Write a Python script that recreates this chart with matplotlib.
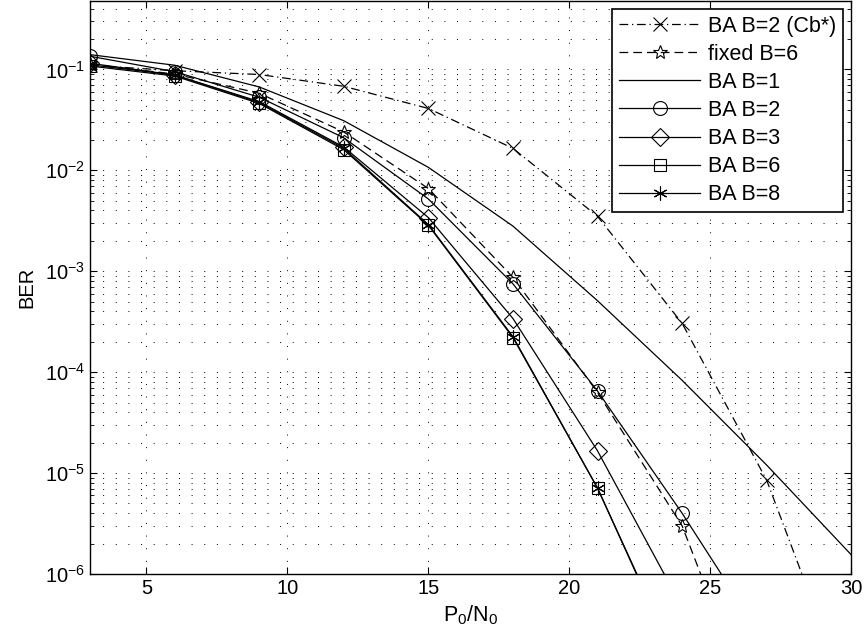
import numpy as np
import matplotlib
matplotlib.use("Agg")
import matplotlib.pyplot as plt

plt.rcParams['font.family'] = ['Liberation Sans', 'DejaVu Sans']
plt.rcParams['mathtext.fontset'] = 'custom'
plt.rcParams['mathtext.rm'] = 'Liberation Sans'
plt.rcParams['mathtext.it'] = 'Liberation Sans:italic'

# SNR points (P0/N0)
snr = [3, 6, 9, 12, 15, 18, 21, 24, 27, 30]

# BER
ber_cb2 = [0.11, 0.097, 0.089, 0.068, 0.041, 0.0165, 3.5e-3, 3.05e-4, 8.5e-6, 5e-8]
ber_fixed6 = [0.112, 0.090, 0.058, 0.024, 6.6e-3, 8.7e-4, 6.3e-5, 3.0e-6, 2e-8]
ber_b1 = [0.14, 0.11, 0.067, 0.031, 0.0107, 2.8e-3, 5.1e-4, 8.3e-5, 1.2e-5, 1.55e-6]
ber_b2 = [0.135, 0.095, 0.053, 0.021, 5.2e-3, 7.5e-4, 6.5e-5, 4.0e-6, 2e-7]
ber_b3 = [0.115, 0.088, 0.048, 0.017, 3.4e-3, 3.4e-4, 1.66e-5, 4.7e-7]
ber_b6 = [0.108, 0.086, 0.046, 0.016, 2.85e-3, 2.2e-4, 7.1e-6, 1e-7]
ber_b8 = [0.111, 0.088, 0.047, 0.0165, 2.9e-3, 2.25e-4, 7.1e-6, 1.05e-7]

fig = plt.figure(figsize=(8.66, 6.41), dpi=100)
ax = fig.add_axes([0.104, 0.1045, 0.879, 0.8945])

kw = dict(color='black', lw=0.9, mfc='none', mec='black', ms=10, mew=0.8)
ax.semilogy(snr, ber_cb2, ls=(0, (7, 3, 1, 3)), marker='x', label='BA B=2 (Cb*)', **kw)
ax.semilogy(snr[:len(ber_fixed6)], ber_fixed6, ls=(0, (7, 4)), marker='*', label='fixed B=6', **kw)
ax.semilogy(snr, ber_b1, '-', label='BA B=1', **kw)
ax.semilogy(snr[:len(ber_b2)], ber_b2, '-', marker='o', label='BA B=2', **kw)
ax.semilogy(snr[:len(ber_b3)], ber_b3, '-', marker='D', label='BA B=3', **dict(kw, ms=9.5))
ax.semilogy(snr[:len(ber_b6)], ber_b6, '-', marker='s', label='BA B=6', **dict(kw, ms=9))
ax.semilogy(snr[:len(ber_b8)], ber_b8, '-', marker=(6, 2, 0), label='BA B=8', **kw)

ax.set_xlim(3, 30)
ax.set_ylim(1e-6, 0.48)
ax.set_xticks([5, 10, 15, 20, 25, 30])
ax.grid(True, which='major', ls=(0, (1, 12)), color='black', lw=0.7)
ax.grid(True, which='minor', axis='y', ls=(0, (1, 12)), color='black', lw=0.7)
ax.tick_params(direction='in', which='both', top=True, right=True, labelsize=14.5)
ax.tick_params(which='major', length=5)
ax.tick_params(which='minor', length=3)
for s in ax.spines.values():
    s.set_linewidth(1.0)

ax.set_xlabel('P$_0$/N$_0$', fontsize=15.5, labelpad=4)
ax.set_ylabel('BER', fontsize=14.5, labelpad=6)

leg = ax.legend(loc='upper right', fontsize=15.5, fancybox=False, framealpha=1,
                edgecolor='black', handlelength=3.8, borderaxespad=0.4,
                labelspacing=0.33, borderpad=0.3, handletextpad=0.35)
leg.get_frame().set_linewidth(1.2)

fig.savefig('out.png', dpi=100)
